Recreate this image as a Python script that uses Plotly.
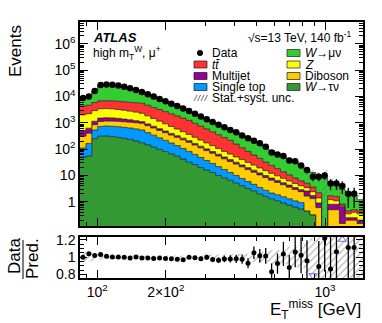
import numpy as np
import plotly.graph_objects as go

# bin edges of E_T^miss [GeV]
edges = [84.0, 89.2, 94.6, 100.4, 106.6, 113.1, 120.1, 127.5, 135.3, 143.6,
         152.4, 161.8, 171.7, 182.3, 193.5, 205.3, 217.9, 231.3, 245.5, 260.6,
         276.6, 293.6, 311.6, 330.7, 351.0, 372.6, 395.5, 419.8, 445.6, 472.9,
         502.0, 532.8, 565.5, 600.2, 637.1, 676.2, 717.7, 761.8, 808.6, 858.2,
         910.9, 966.9, 1026.2, 1089.2, 1156.1, 1227.1, 1302.5, 1382.5, 1467.4]

data = [8770, 10000, 16200, 27400, 28600, 28100, 26200, 23600, 20700, 17700,
        14800, 12200, 10000, 8030, 6570, 5320, 4350, 3500, 2810, 2220,
        1740, 1360, 1070, 847, 675, 532, 435, 329, 258, 209,
        166, 123, 74, 62, 55, 37, 35, 24, 16, 9,
        9, 10, 5, 5, 4, 2, 2, 0]

w_munu = [4460, 5000, 10000, 19800, 21400, 21300, 19600, 17300, 14900, 11900,
          9420, 7680, 6300, 4910, 4000, 3220, 2630, 2100, 1570, 1270,
          1020, 775, 644, 523, 413, 328, 288, 224, 195, 139,
          119, 89, 65, 48.8, 39.2, 31.5, 25, 17.2, 11.65, 9.3,
          7.9, 8.2, 4.1, 3.1, 2.1, 1.35, 1.3, 0.75]
ttbar = [2300, 2400, 3000, 3400, 3450, 3400, 3350, 3300, 3250, 3230,
         3210, 2800, 2400, 2050, 1750, 1480, 1250, 1050, 880, 684,
         531, 413, 321, 249, 194, 150, 105, 73, 51, 35,
         25, 17, 12, 8.5, 6, 4.3, 3, 2.2, 1.6, 1.2,
         0.8, 0, 0.5, 0.5, 0.12, 0.1, 0.1, 0.1]
z_bos = [1500, 1600, 1750, 1900, 1910, 1850, 1750, 1620, 1480, 1340,
         1200, 928, 717, 554, 428, 331, 256, 198, 153, 118,
         91, 70, 54, 42, 32, 25, 19, 15, 11.5, 8.9,
         6.8, 5.3, 4.1, 3.2, 2.5, 1.9, 1.5, 1.2, 0.9, 0.7,
         0.5, 0, 0.4, 0.3, 0.05, 0.1, 0.15, 0.15]
multijet = [200, 220, 300, 380, 400, 380, 340, 290, 245, 200,
            160, 128, 103, 83, 67, 54, 44, 35, 28, 22,
            18, 14.5, 11.5, 9.3, 7.4, 6, 4.8, 3.8, 3.1, 2.5,
            2.0, 1.6, 1.3, 1.05, 0.85, 0.7, 0.55, 0.45, 0.9, 0.4,
            0.3, 0, 0.3, 0.3, 0.5, 0.05, 0.05, 0.05]
diboson = [200, 240, 320, 400, 410, 420, 425, 425, 425, 425,
           425, 355, 296, 247, 206, 172, 144, 120, 100, 80,
           64, 51, 41, 33, 26, 21, 17, 13.5, 10.8, 8.7,
           7.0, 5.6, 4.5, 3.6, 2.9, 2.3, 1.85, 1.5, 1.2, 1.0,
           0.6, 0, 0.5, 0.5, 0.15, 0.2, 0.2, 0.15]
single_top = [60, 110, 280, 420, 440, 440, 430, 415, 400, 380,
              358, 280, 219, 171, 134, 105, 82, 64, 50, 37,
              28, 21, 15.6, 11.7, 8.7, 6.5, 4.9, 3.6, 2.7, 2.0,
              1.5, 1.13, 0.84, 0.75, 0.65, 0.55, 0.45, 0.4, 0, 0,
              0, 0, 0, 0, 0, 0, 0, 0]
w_taunu = [50, 55, 250, 310, 315, 300, 280, 257, 234, 204,
           174, 145, 120, 98, 81, 66, 54, 42, 32, 26,
           20, 16, 13, 10, 8.1, 6.5, 5.1, 4.1, 3.2, 2.6,
           2.0, 1.6, 1.3, 1.1, 0.9, 0.75, 0.63, 0.53, 0.45, 0.32,
           0, 0, 0, 0, 0, 0, 0, 0]
# relative stat.+syst. uncertainty of the prediction
unc = [0.06, 0.05, 0.04, 0.03, 0.02, 0.02, 0.02, 0.02, 0.02, 0.02,
       0.02, 0.02, 0.02, 0.02, 0.02, 0.02, 0.02, 0.02, 0.02, 0.02,
       0.02, 0.03, 0.03, 0.03, 0.03, 0.03, 0.04, 0.04, 0.04, 0.06,
       0.06, 0.06, 0.08, 0.08, 0.08, 0.12, 0.12, 0.12, 0.18, 0.22,
       0.3, 1.0, 0.3, 0.35, 0.4, 0.4, 0.45, 0.5]

stack = [("W→τν", w_taunu, "#339933"), ("Single top", single_top, "#0099ff"),
         ("Diboson", diboson, "#ffcc00"), ("Multijet", multijet, "#990099"),
         ("Z", z_bos, "#ffff00"), ("tt", ttbar, "#ff3333"), ("W→μν", w_munu, "#33cc33")]

W, H = 382, 323
ML, MR, MT, MB = 80, 19, 22, 45
FONT = "Liberation Sans"


def px(x):
    return (x - ML) / (W - ML - MR)


def py(y):
    return (H - MB - y) / (H - MT - MB)


def step(v):
    v = np.asarray(v, dtype=float)
    return np.append(v, v[-1])


edges_a = np.array(edges)
centres = np.sqrt(edges_a[:-1] * edges_a[1:])
data_a = np.array(data, dtype=float)
unc_a = np.array(unc)
FLOOR = 1e-3

fig = go.Figure()

# stacked prediction
fig.add_trace(go.Scatter(x=edges, y=[FLOOR] * len(edges), mode="lines",
                         line=dict(width=0, shape="hv"), showlegend=False, hoverinfo="skip"))
cum = np.zeros(len(data))
for name, vals, col in stack:
    cum = cum + np.array(vals, dtype=float)
    fig.add_trace(go.Scatter(x=edges, y=np.maximum(step(cum), FLOOR), mode="lines", name=name,
                             line=dict(color="#1a1a1a", width=0.7, shape="hv"),
                             fill="tonexty", fillcolor=col, showlegend=False))
mc = cum

# uncertainty band
hatch = dict(shape="/", fgcolor="#6e6e6e", bgcolor="rgba(0,0,0,0)", size=5, solidity=0.25)
fig.add_trace(go.Scatter(x=edges, y=np.maximum(step(mc * (1 - unc_a)), FLOOR), mode="lines",
                         line=dict(width=0, shape="hv"), showlegend=False))
fig.add_trace(go.Scatter(x=edges, y=step(mc * (1 + unc_a)), mode="lines",
                         line=dict(width=0, shape="hv"), fill="tonexty",
                         fillcolor="rgba(0,0,0,0)", fillpattern=hatch, showlegend=False))

# data
ok = data_a > 0
fig.add_trace(go.Scatter(x=centres[ok], y=data_a[ok], mode="markers",
                         marker=dict(color="black", size=6.5),
                         error_y=dict(type="data", array=np.sqrt(data_a[ok]), width=0,
                                      thickness=1.3, color="black"),
                         showlegend=False))

# ratio panel
fig.add_trace(go.Scatter(x=edges, y=step(1 - unc_a), mode="lines", xaxis="x2", yaxis="y2",
                         line=dict(width=0, shape="hv"), showlegend=False))
fig.add_trace(go.Scatter(x=edges, y=step(1 + unc_a), mode="lines", xaxis="x2", yaxis="y2",
                         line=dict(width=0, shape="hv"), fill="tonexty",
                         fillcolor="rgba(0,0,0,0)", fillpattern=hatch, showlegend=False))
ratio = np.where(ok, data_a / mc, np.nan)
rerr = np.where(ok, np.sqrt(data_a) / mc, np.nan)
RLO, RHI = 0.758, 1.234
inr = ok & (ratio > RLO) & (ratio < RHI)
fig.add_trace(go.Scatter(x=centres[inr], y=ratio[inr], mode="markers", xaxis="x2", yaxis="y2",
                         marker=dict(color="black", size=5),
                         error_y=dict(type="data", array=rerr[inr], width=0, thickness=1.3,
                                      color="black"),
                         showlegend=False))
low = ok & (ratio <= RLO)
high = ok & (ratio >= RHI)
fig.add_trace(go.Scatter(x=centres[low], y=[RLO + 0.03] * int(low.sum()), mode="markers",
                         xaxis="x2", yaxis="y2",
                         marker=dict(symbol="triangle-down-open", color="#6c6cf0", size=7),
                         showlegend=False))
fig.add_trace(go.Scatter(x=centres[high], y=[RHI - 0.03] * int(high.sum()), mode="markers",
                         xaxis="x2", yaxis="y2",
                         marker=dict(symbol="triangle-up-open", color="#6c6cf0", size=7),
                         showlegend=False))

axis_style = dict(showline=True, linecolor="black", linewidth=1.5, mirror="allticks",
                  ticks="inside", tickcolor="black", showgrid=False, zeroline=False,
                  tickfont=dict(family=FONT, size=14, color="black"))
xrange = [np.log10(edges[0]), np.log10(edges[-1])]
xminor = dict(ticks="inside", ticklen=4, tickcolor="black",
              tickvals=[90, 300, 400, 500, 600, 700, 800, 900])
yminor_vals = [m * 10.0 ** e for e in range(-1, 7) for m in range(2, 10)]

fig.update_layout(
    width=W, height=H,
    margin=dict(l=ML, r=MR, t=MT, b=MB),
    paper_bgcolor="white", plot_bgcolor="white",
    font=dict(family=FONT, color="black"),
    showlegend=False,
    xaxis=dict(type="log", range=xrange, domain=[0, 1], anchor="y",
               tickvals=[100, 200, 1000], showticklabels=False, ticklen=8,
               minor=xminor, **axis_style),
    yaxis=dict(type="log", range=[-0.92, 6.83], domain=[py(226), 1], anchor="x",
               tickvals=[1, 10, 100, 1e3, 1e4, 1e5, 1e6],
               ticktext=["1", "10", "10<sup>2</sup>", "10<sup>3</sup>", "10<sup>4</sup>",
                         "10<sup>5</sup>", "10<sup>6</sup>"],
               ticklen=8, minor=dict(ticks="inside", ticklen=4, tickcolor="black",
                                     tickvals=yminor_vals), **axis_style),
    xaxis2=dict(type="log", range=xrange, domain=[0, 1], anchor="y2", matches="x",
                tickvals=[100, 200, 1000],
                ticktext=["10<sup>2</sup>", "2×10<sup>2</sup>", "10<sup>3</sup>"],
                ticklen=8, minor=xminor, **axis_style),
    yaxis2=dict(range=[RLO, RHI], domain=[0, py(237)], anchor="x2",
                tickvals=[0.8, 1.0, 1.2], ticktext=["0.8", "1", "1.2"], ticklen=7,
                minor=dict(ticks="inside", ticklen=4, tickcolor="black", dtick=0.05),
                **axis_style),
)

ann = []


def text(x, y, s, size=12, anchor="left", angle=0):
    ann.append(dict(x=px(x), y=py(y), xref="paper", yref="paper", text=s, showarrow=False,
                    xanchor=anchor, yanchor="middle", textangle=angle,
                    font=dict(family=FONT, size=size, color="black")))


text(15, 51, "Events", size=17, anchor="center", angle=-90)
text(14, 256, "Data", size=17, anchor="center", angle=-90)
text(32, 259, "Pred.", size=17, anchor="center", angle=-90)
text(363, 309, "E<sub>T</sub><sup>miss</sup> [GeV]", size=17, anchor="right")
text(91, 37, "<b><i>ATLAS</i></b>", size=13)
text(91, 53, "high m<sub>T</sub><sup>W</sup>, μ<sup>+</sup>", size=12)
text(353, 37, "√s=13 TeV, 140 fb<sup>-1</sup>", size=12, anchor="right")

shapes = [dict(type="line", xref="paper", yref="paper", x0=px(23), x1=px(23),
               y0=py(240), y1=py(279), line=dict(color="black", width=1))]

rows = [53, 64.5, 76, 87, 98]
col1 = [("Data", None), ("<i>tt̄</i>", "#ff3333"), ("Multijet", "#990099"),
        ("Single top", "#0099ff"), ("Stat.+syst. unc.", "hatch")]
col2 = [("<i>W</i>→μν", "#33cc33"), ("<i>Z</i>", "#ffff00"), ("Diboson", "#ffcc00"),
        ("<i>W</i>→τν", "#339933")]
for (label, col), y in zip(col1, rows):
    if col is None:
        shapes.append(dict(type="circle", xref="paper", yref="paper", x0=px(197), x1=px(203),
                           y0=py(56), y1=py(50), fillcolor="black", line=dict(width=0)))
    elif col == "hatch":
        for x0 in (194, 197.5, 201, 204.5):
            shapes.append(dict(type="line", xref="paper", yref="paper", x0=px(x0), x1=px(x0 + 3),
                               y0=py(y + 3), y1=py(y - 3), line=dict(color="#6e6e6e", width=1)))
    else:
        shapes.append(dict(type="rect", xref="paper", yref="paper", x0=px(194), x1=px(207),
                           y0=py(y + 3.5), y1=py(y - 3.5), fillcolor=col,
                           line=dict(color="#1a1a1a", width=0.7)))
    text(210, y, label, size=12)
for (label, col), y in zip(col2, rows):
    shapes.append(dict(type="rect", xref="paper", yref="paper", x0=px(287), x1=px(300),
                       y0=py(y + 3.5), y1=py(y - 3.5), fillcolor=col,
                       line=dict(color="#1a1a1a", width=0.7)))
    text(303, y, label, size=12)

fig.update_layout(annotations=ann, shapes=shapes)
fig.write_html("out.html", config={"displayModeBar": False},
               post_script="document.body.style.margin='0px';")
